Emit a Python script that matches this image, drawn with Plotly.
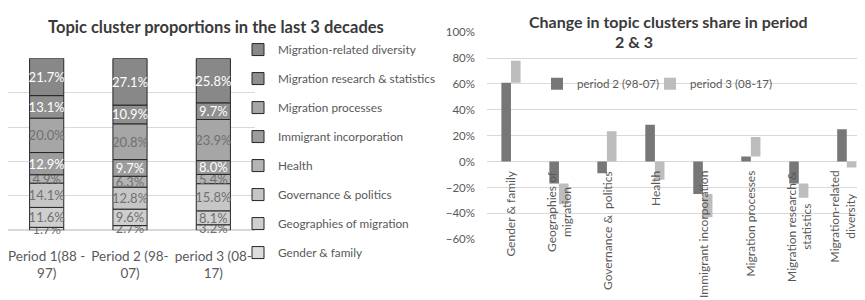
import plotly.graph_objects as go

# ---------------- data ----------------
periods = ["Period 1(88 -<br>97)", "Period 2 (98-<br>07)", "period 3 (08-<br>17)"]
clusters = ["Gender & family", "Geographies of migration", "Governance & politics", "Health",
            "Immigrant incorporation", "Migration processes", "Migration research & statistics",
            "Migration-related diversity"]
gender_family = [1.7, 2.7, 3.2]
geographies = [11.6, 9.6, 8.1]
governance = [14.1, 12.8, 15.8]
health = [4.9, 6.3, 5.4]
immigrant_incorporation = [12.9, 9.7, 8.0]
migration_processes = [20.0, 20.8, 23.9]
migration_research = [13.1, 10.9, 9.7]
migration_diversity = [21.7, 27.1, 25.8]
shares = [gender_family, geographies, governance, health, immigrant_incorporation,
          migration_processes, migration_research, migration_diversity]

change_labels = ["Gender & family", "Geographies of<br>migration", "Governance &  politics", "Health",
                 "Immigrant incorporation", "Migration processes", "Migration research &<br>statistics",
                 "Migration-related<br>diversity"]
change_p2 = [61, -17, -9, 28.5, -25, 4, -17, 25]
change_p3 = [17, -16, 23.5, -14, -18, 15, -11, -4.5]

# ---------------- styles ----------------
FONT = "Lato"
seg_colors = ["#dcdcdc", "#cfcfcf", "#c6c6c6", "#b4b4b4", "#9c9c9c", "#a6a6a6", "#8f8f8f", "#888888"]
seg_text = ["#707070", "#707070", "#707070", "#707070", "#ffffff", "#707070", "#ffffff", "#ffffff"]
GRID = "#d9d9d9"
TXT = "#595959"
TITLE = "#3a3a3a"

# page body has an 8px margin: figure occupies the window from (8, 8)
OFF = 8
W, H = 865 - OFF, 300 - OFF


def px(xp):
    return min(1.0, max(0.0, (xp - OFF) / W))


def py(yp):
    return min(1.0, max(0.0, 1 - (yp - OFF) / H))


fig = go.Figure()

n = len(clusters)
for i, (name, vals, col, tcol) in enumerate(zip(clusters, shares, seg_colors, seg_text)):
    fig.add_trace(go.Bar(
        x=periods, y=vals, name=name, xaxis="x", yaxis="y", legend="legend", legendgroup=name,
        legendrank=n - i,
        width=0.41, marker=dict(color=col, line=dict(color="#262626", width=1)),
        text=[f"{v:.1f}%" for v in vals], textposition="inside", insidetextanchor="middle",
        constraintext="none", textangle=0, cliponaxis=False,
        textfont=dict(color=tcol, size=13, family=FONT),
    ))

fig.add_trace(go.Bar(x=list(range(len(change_labels))), y=change_p2, name="period 2 (98-07)",
                     xaxis="x2", yaxis="y2", legend="legend2", width=0.2, offset=-0.2,
                     marker=dict(color="#777777", line=dict(width=0))))
fig.add_trace(go.Bar(x=list(range(len(change_labels))), y=change_p3, name="period 3 (08-17)",
                     xaxis="x2", yaxis="y2", legend="legend3", width=0.2, offset=0,
                     marker=dict(color="#bdbdbd", line=dict(width=0))))

# category labels of right chart (rotated, hanging below zero line)
for i, lab in enumerate(change_labels):
    fig.add_annotation(x=i, y=0, xref="x2", yref="y2", text=lab, textangle=-90,
                       showarrow=False, xanchor="center", yanchor="top", yshift=-7, align="center",
                       xshift=-4 if i == len(change_labels) - 1 else 0,
                       font=dict(family=FONT, size=12, color=TXT))

# titles
fig.add_annotation(x=px(216), y=py(21), xref="paper", yref="paper",
                   text="<b>Topic cluster proportions in the last 3 decades</b>", showarrow=False,
                   xanchor="center", yanchor="middle", font=dict(family=FONT, size=16.5, color=TITLE))
fig.add_annotation(x=px(668), y=py(15), xref="paper", yref="paper",
                   text="<b>Change in topic clusters share in period</b>", showarrow=False,
                   xanchor="center", yanchor="middle", font=dict(family=FONT, size=16, color=TITLE))
fig.add_annotation(x=px(634), y=py(36), xref="paper", yref="paper",
                   text="<b>2 & 3</b>", showarrow=False,
                   xanchor="center", yanchor="middle", font=dict(family=FONT, size=16, color=TITLE))

# left plot: categories every 83.3 px starting at x=5; domain clipped to the page start
cat_w = 250 / 3
left_start = -0.5 + (OFF - 5) / cat_w

small_legend = dict(yanchor="middle", xanchor="left", orientation="h", bgcolor="rgba(0,0,0,0)",
                    font=dict(size=11.5, color=TXT, family=FONT), itemwidth=30)

fig.update_layout(
    width=W, height=H, margin=dict(l=0, r=0, t=0, b=0),
    paper_bgcolor="white", plot_bgcolor="white", barmode="relative",
    font=dict(family=FONT, size=12, color=TXT),
    xaxis=dict(domain=[px(OFF), px(255)], range=[left_start, 2.5], showline=False, showgrid=False,
               ticks="", tickfont=dict(size=13.5, color=TXT), anchor="y", ticklabelstandoff=16),
    yaxis=dict(domain=[py(233.3), py(53.3)], range=[0, 100], dtick=20, tick0=0,
               showticklabels=False, gridcolor=GRID, zeroline=True, zerolinecolor=GRID,
               showline=False, anchor="x"),
    xaxis2=dict(domain=[px(487), 1.0], range=[-0.5, 7.38], showticklabels=False, showgrid=False,
                showline=False, ticks="", anchor="y2"),
    yaxis2=dict(domain=[py(242.7), py(26)], range=[-60, 100], dtick=20, tick0=0,
                ticksuffix="%", gridcolor=GRID, zeroline=True, zerolinecolor=GRID, zerolinewidth=1,
                showline=False, anchor="x2", tickfont=dict(size=11.5, color=TXT), ticklabelstandoff=11),
    legend=dict(x=px(238), y=py(29), xanchor="left", yanchor="top", orientation="v",
                traceorder="grouped", tracegroupgap=10, bgcolor="rgba(0,0,0,0)",
                font=dict(size=11.8, color=TXT, family=FONT), itemwidth=30),
    legend2=dict(x=px(537), y=py(80), **small_legend),
    legend3=dict(x=px(650), y=py(80), **small_legend),
    showlegend=True,
)

fig.write_html("out.html")
